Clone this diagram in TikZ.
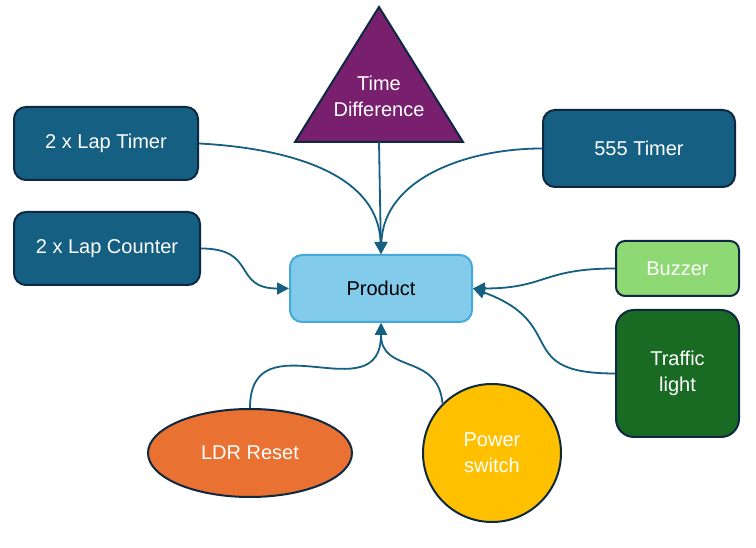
\documentclass[tikz,border=0pt]{standalone}
\usepackage{fontspec}
\setmainfont{Liberation Sans}
\usetikzlibrary{shapes.geometric,arrows.meta}
\definecolor{teal}{HTML}{156082}
\definecolor{edge}{HTML}{0E2841}
\definecolor{prodblue}{HTML}{83CBEB}
\definecolor{prodline}{HTML}{45A9DB}
\definecolor{plum}{HTML}{78206E}
\definecolor{ldrorange}{HTML}{E97132}
\definecolor{powyellow}{HTML}{FFC000}
\definecolor{buzgreen}{HTML}{8ED973}
\definecolor{lightgreen}{HTML}{196B24}
\begin{document}
\begin{tikzpicture}[x=1pt,y=1pt,
    box/.style={draw=edge,line width=2pt,rounded corners=12pt,text=white,
        font=\fontsize{20}{26}\selectfont,align=center,inner sep=0pt},
    link/.style={draw=teal,line width=1.8pt,-{Triangle[length=12pt,width=12pt]}}]
            \useasboundingbox (0,0) rectangle (756,548);

            % sources on the left
            \node[box,fill=teal,minimum width=184,minimum height=73] (laptimer) at (106,404.5) {2 x Lap Timer};
            \node[box,fill=teal,minimum width=186,minimum height=73] (lapcounter) at (107,299.5) {2 x Lap Counter};

            % triangle on top
            \filldraw[fill=plum,draw=edge,line width=2pt,line join=miter] (379,541) -- (463,406) -- (295,406) -- cycle;
            \node[text=white,font=\fontsize{20}{26}\selectfont,align=center] (timediff) at (379,452) {Time\\Difference};
            \coordinate (tdbase) at (379,406);

            \node[box,fill=teal,minimum width=192,minimum height=77] (ic555) at (639,399.5) {555 Timer};

            % the product
            \node[box,draw=prodline,fill=prodblue,text=black,minimum width=182,minimum height=67] (product) at (381,259.5) {Product};

            % outputs on the right
            \node[box,fill=buzgreen,rounded corners=9pt,minimum width=123,minimum height=55] (buzzer) at (677.5,279.5) {Buzzer};
            \node[box,fill=lightgreen,rounded corners=18pt,minimum width=123,minimum height=127] (traffic) at (677.5,174.5) {Traffic\\light};

            % bottom
            \node[ellipse,draw=edge,line width=2pt,fill=ldrorange,text=white,font=\fontsize{20}{26}\selectfont,
                minimum width=204,minimum height=88,inner sep=0pt] (ldr) at (250,95) {LDR Reset};
            \node[circle,draw=edge,line width=2pt,fill=powyellow,text=white,font=\fontsize{20}{26}\selectfont,align=center,
                minimum size=138,inner sep=0pt] (power) at (492,95) {Power\\switch};

            % connectors
            \draw[link] (laptimer.east) to[out=-3,in=92] (product.north);
            \draw[link] (tdbase) -- (product.north);
            \draw[link] (ic555.west) to[out=180,in=88] (product.north);
            \draw[link] (lapcounter.east) to[out=0,in=180,looseness=1.5] (product.west);
            \draw[link] (buzzer.west) to[out=180,in=0,looseness=1.3] (product.east);
            \draw[link] (traffic.west) to[out=180,in=-20,looseness=1.6] (product.east);
            \draw[link] (ldr.north) to[out=90,in=-90,looseness=1.5] (product.south);
            \draw[link] (power.135) to[out=95,in=-90,looseness=1.3] (product.south);
        \end{tikzpicture}
\end{document}
